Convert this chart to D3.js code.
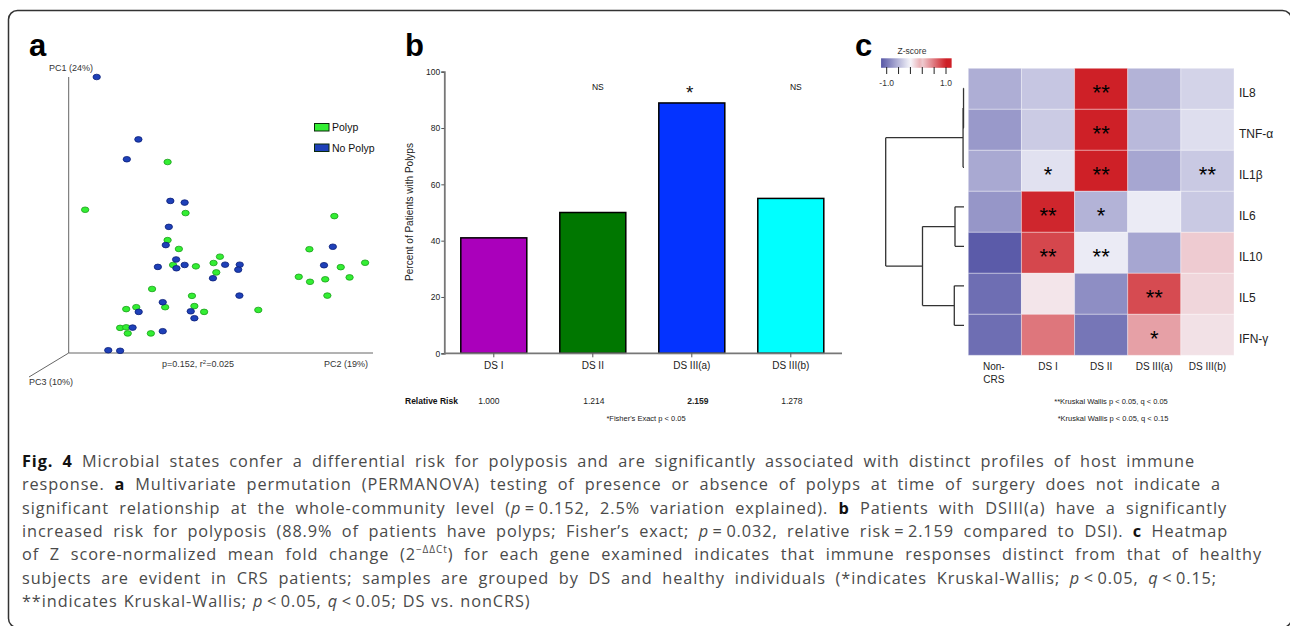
<!DOCTYPE html>
<html>
<head>
<meta charset="utf-8">
<script src="https://cdn.jsdelivr.net/npm/d3@7"></script>
<style>
  body { margin: 0; background: #fff; }
  svg { display: block; }
  text { font-family: "Liberation Sans", Arial, sans-serif; }
  text.caption { font-family: "Open Sans", "Noto Sans", sans-serif; letter-spacing: 0.9px; }
</style>
</head>
<body>
<div id="container"></div>
<script>
const width = 1290;
const height = 626;

// ---- panel a: ordination points, [PC2, PC1] as % of the drawn axis length
const polypPts = [[32.5,69.2],[5.4,51.9],[38.4,50.7],[87.3,49.6],[32.5,40.9],[36.2,37.7],[79.1,37.6],[49.7,34.9],
  [47.6,32.6],[34.3,31.9],[41.8,31.4],[97.4,32.7],[89.4,31.1],[48.5,29.2],[75.6,27.6],[92.3,27.4],[84.3,26.7],
  [79.3,25.8],[27.4,23.2],[40.5,20.7],[85.0,20.8],[22.2,16.6],[18.9,15.9],[31.7,16.6],[41.3,17.0],[62.3,15.6],
  [44.5,14.9],[16.9,9.1],[18.9,9.3],[19.4,7.1],[27.0,7.1]];
const noPolypPts = [[9.2,100],[22.9,77.4],[19.1,70.2],[33.4,55.1],[38.1,54.5],[32.9,45.7],[31.9,39.1],[86.8,38.5],
  [35.3,33.9],[38.1,31.9],[51.4,32.0],[56.2,32.0],[29.3,31.2],[35.4,30.7],[55.7,30.2],[83.9,31.8],[47.4,27.1],
  [56.1,20.8],[30.9,18.4],[23.0,14.9],[40.1,15.1],[41.3,12.6],[21.0,9.2],[30.9,7.9],[13.0,1.0],[16.9,0.8]];

// ---- panel b
const dsCats = ["DS I", "DS II", "DS III(a)", "DS III(b)"];
const pctPolyps = [41, 50, 88.9, 55];
const barColors = ["#aa00bb", "#007700", "#0433ff", "#00ffff"];
const sigLabels = ["", "NS", "*", "NS"];
const relRisk = ["1.000", "1.214", "2.159", "1.278"];
const pctTicks = [0, 20, 40, 60, 80, 100];

// ---- panel c
const heatCols = ["Non-CRS", "DS I", "DS II", "DS III(a)", "DS III(b)"];
const genes = ["IL8", "TNF-α", "IL1β", "IL6", "IL10", "IL5", "IFN-γ"];
const zScores = [
  [-0.45, -0.30, 1.00, -0.42, -0.22],
  [-0.58, -0.27, 1.00, -0.38, -0.15],
  [-0.48, -0.13, 1.00, -0.50, -0.28],
  [-0.60, 0.97, -0.42, -0.07, -0.28],
  [-0.97, 0.82, -0.07, -0.50, 0.20],
  [-0.85, 0.08, -0.65, 0.80, 0.15],
  [-0.85, 0.60, -0.80, 0.40, 0.10]
];
const stars = [["IL8","DS II","**"],["TNF-α","DS II","**"],["IL1β","DS I","*"],["IL1β","DS II","**"],
  ["IL1β","DS III(b)","**"],["IL6","DS I","**"],["IL6","DS II","*"],["IL10","DS I","**"],["IL10","DS II","**"],
  ["IL5","DS III(a)","**"],["IFN-γ","DS III(a)","*"]];
const zTicks = [-1, -0.6, -0.2, 0.2, 0.6, 1];
// gene clustering: leaves are row indexes, h = merge height (0..1)
const dendro = {h: 1, children: [
  {h: 0.012, children: [{h: 0.006, children: [{leaf: 0}, {leaf: 1}]}, {leaf: 2}]},
  {h: 0.53, children: [{h: 0.115, children: [{leaf: 3}, {leaf: 4}]}, {h: 0.124, children: [{leaf: 5}, {leaf: 6}]}]}
]};

const svg = d3.select("#container").append("svg")
  .attr("width", width).attr("height", height);

svg.append("rect")
  .attr("x", 8.5).attr("y", 10.5).attr("width", 1283).attr("height", 617)
  .attr("rx", 9).attr("fill", "none").attr("stroke", "#333").attr("stroke-width", 1.5);

const panelLabel = (x, y, t) => svg.append("text").attr("x", x).attr("y", y)
  .attr("font-size", 31).attr("font-weight", "bold").attr("fill", "#000").text(t);
panelLabel(29, 56, "a");
panelLabel(405, 56, "b");
panelLabel(855, 56, "c");

// ================= panel a
const gA = svg.append("g");
const pcX = d3.scaleLinear().domain([0, 100]).range([68.7, 373]);
const pcY = d3.scaleLinear().domain([0, 100]).range([353, 77]);
gA.append("line").attr("x1", pcX(0)).attr("x2", pcX(0)).attr("y1", pcY(0)).attr("y2", pcY(100));
gA.append("line").attr("x1", pcX(0)).attr("x2", pcX(100)).attr("y1", pcY(0)).attr("y2", pcY(0));
gA.append("line").attr("x1", pcX(0)).attr("x2", 29).attr("y1", pcY(0)).attr("y2", 377);
gA.selectAll("line").attr("stroke", "#666").attr("stroke-width", 1);

const smallTxt = (g, x, y, t, size, anchor) => g.append("text").attr("x", x).attr("y", y)
  .attr("font-size", size).attr("fill", "#333").attr("text-anchor", anchor || "start").text(t);
smallTxt(gA, 49, 71, "PC1 (24%)", 9);
smallTxt(gA, 324, 367, "PC2 (19%)", 9);
smallTxt(gA, 29, 385, "PC3 (10%)", 9);
const pr = gA.append("text").attr("x", 162).attr("y", 367).attr("font-size", 9).attr("fill", "#333");
pr.append("tspan").text("p=0.152, r");
pr.append("tspan").attr("font-size", 6).attr("dy", -3).text("2");
pr.append("tspan").attr("dy", 3).text("=0.025");

const drawPts = (pts, fill, stroke) => gA.append("g").selectAll("ellipse").data(pts).enter()
  .append("ellipse")
  .attr("cx", d => pcX(d[0])).attr("cy", d => pcY(d[1]))
  .attr("rx", 3.7).attr("ry", 2.8)
  .attr("fill", fill).attr("stroke", stroke).attr("stroke-width", 0.8);
drawPts(polypPts, "#33ee33", "#1a9e1a");
drawPts(noPolypPts, "#1e40b8", "#0b1f78");

const legA = [["Polyp", "#33ee33"], ["No Polyp", "#1e40b8"]];
legA.forEach((d, i) => {
  gA.append("rect").attr("x", 314.5).attr("y", 123.5 + i * 20.5).attr("width", 14.5).attr("height", 7.5)
    .attr("fill", d[1]).attr("stroke", "#0a2a0a").attr("stroke-width", 1);
  smallTxt(gA, 332, 131 + i * 20.5, d[0], 10.5).attr("fill", "#111");
});

// ================= panel b
const gB = svg.append("g");
const yB = d3.scaleLinear().domain([0, 100]).range([353.3, 71.7]);
const xB = d3.scaleBand().domain(dsCats).range([444.3, 840.3]).paddingInner(1 / 3).paddingOuter(1 / 6);

gB.selectAll("rect").data(dsCats).enter().append("rect")
  .attr("x", d => xB(d)).attr("width", xB.bandwidth())
  .attr("y", (d, i) => yB(pctPolyps[i])).attr("height", (d, i) => yB(0) - yB(pctPolyps[i]))
  .attr("fill", (d, i) => barColors[i]).attr("stroke", "#000").attr("stroke-width", 1.5);

const axB = gB.append("g").attr("transform", "translate(444.3,0)")
  .call(d3.axisLeft(yB).tickValues(pctTicks).tickSize(3).tickPadding(1).tickFormat(d3.format("d")));
const axBx = gB.append("g").attr("transform", "translate(0,353.3)")
  .call(d3.axisBottom(xB).tickSize(4).tickSizeOuter(0).tickPadding(5));
[axB, axBx].forEach(ax => {
  ax.select(".domain").attr("stroke", "#777").attr("stroke-width", 1.8);
  ax.selectAll(".tick line").attr("stroke", "#555");
  ax.selectAll("text").attr("fill", "#222");
});
axB.selectAll("text").attr("font-size", 8.5);
axBx.selectAll("text").attr("font-size", 10);
axBx.select(".domain").attr("d", "M444.3,0H842");

gB.append("text").attr("transform", "translate(413,212) rotate(-90)")
  .attr("text-anchor", "middle").attr("font-size", 10).attr("fill", "#222")
  .text("Percent of Patients with Polyps");

dsCats.forEach((c, i) => {
  const cx = xB(c) + xB.bandwidth() / 2;
  if (sigLabels[i]) {
    const star = sigLabels[i] === "*";
    gB.append("text").attr("x", cx + (star ? -2 : 5))
      .attr("y", star ? 99 : 90).attr("text-anchor", "middle")
      .attr("font-size", star ? 19 : 8.5).attr("fill", "#111").text(sigLabels[i]);
  }
  gB.append("text").attr("x", cx + (i === 2 ? 6 : i === 0 ? -5 : 1)).attr("y", 404)
    .attr("text-anchor", "middle").attr("font-size", 8.5).attr("fill", "#222")
    .attr("font-weight", i === 2 ? "bold" : "normal").text(relRisk[i]);
});
gB.append("text").attr("x", 405).attr("y", 404).attr("font-size", 8.5).attr("font-weight", "bold")
  .attr("fill", "#111").text("Relative Risk");
gB.append("text").attr("x", 646).attr("y", 421).attr("text-anchor", "middle").attr("font-size", 7.5)
  .attr("fill", "#222").text("*Fisher's Exact p < 0.05");

// ================= panel c
const gC = svg.append("g");
const xC = d3.scaleBand().domain(heatCols).range([968.3, 1234]);
const yC = d3.scaleBand().domain(genes).range([68.3, 355.3]);
const zColor = d3.scaleLinear().domain([-1, 0, 1]).range(["#5656a6", "#f6f6fb", "#ce2027"]).clamp(true);

genes.forEach((g, r) => {
  gC.append("g").selectAll("rect").data(heatCols).enter().append("rect")
    .attr("x", d => xC(d)).attr("y", yC(g))
    .attr("width", xC.bandwidth()).attr("height", yC.bandwidth())
    .attr("fill", (d, c) => zColor(zScores[r][c]))
    .attr("stroke", "#fff").attr("stroke-opacity", 0.35).attr("stroke-width", 1);
  gC.append("text").attr("x", 1239).attr("y", yC(g) + yC.bandwidth() / 2 + 8)
    .attr("font-size", 12).attr("fill", "#222").text(g);
});

gC.selectAll(".star").data(stars).enter().append("text").attr("class", "star")
  .attr("x", d => xC(d[1]) + xC.bandwidth() / 2)
  .attr("y", d => yC(d[0]) + yC.bandwidth() / 2 + 11)
  .attr("text-anchor", "middle").attr("font-size", 22).attr("fill", "#000")
  .text(d => d[2]);

heatCols.forEach(c => {
  const t = gC.append("text").attr("x", xC(c) + xC.bandwidth() / 2).attr("y", 370)
    .attr("text-anchor", "middle").attr("font-size", 10).attr("fill", "#222");
  if (c === "Non-CRS") {
    t.append("tspan").attr("x", xC(c) + xC.bandwidth() / 2 - 1).text("Non-");
    t.append("tspan").attr("x", xC(c) + xC.bandwidth() / 2 - 1).attr("dy", 13).text("CRS");
  } else t.text(c);
});
gC.append("text").attr("x", 1111).attr("y", 404).attr("text-anchor", "middle").attr("font-size", 7.5)
  .attr("fill", "#222").text("**Kruskal Wallis p < 0.05, q < 0.05");
gC.append("text").attr("x", 1113).attr("y", 421).attr("text-anchor", "middle").attr("font-size", 7.5)
  .attr("fill", "#222").text("*Kruskal Wallis p < 0.05, q < 0.15");

// colour key
const zX = d3.scaleLinear().domain([-1, 1]).range([886.7, 946]);
const grad = svg.append("defs").append("linearGradient").attr("id", "zgrad");
d3.range(-1.19, 1.2, 0.1).forEach(v => {
  grad.append("stop").attr("offset", (v + 1.19) / 2.38).attr("stop-color", zColor(v + 0.2 * (v < 0.2 ? 1 : 0)));
});
gC.append("rect").attr("x", zX(-1.19)).attr("y", 58.3).attr("width", zX(1.19) - zX(-1.19)).attr("height", 9.5)
  .attr("fill", "url(#zgrad)");
gC.append("g").selectAll("line").data(zTicks).enter().append("line")
  .attr("x1", d => zX(d)).attr("x2", d => zX(d)).attr("y1", 67).attr("y2", 74)
  .attr("stroke", "#222").attr("stroke-width", 1);
smallTxt(gC, zX(-1), 86, "-1.0", 8.5, "middle");
smallTxt(gC, zX(1), 86, "1.0", 8.5, "middle");
smallTxt(gC, 912, 54, "Z-score", 8.5, "middle");

// dendrogram
const dX = d3.scaleLinear().domain([0, 1]).range([964, 885.7]);
const dY = d3.scaleLinear().domain([0, 6]).range([88.3, 325.3]);
const dendroPaths = [];
const place = n => {
  if (n.children) {
    n.children.forEach(place);
    n.y = d3.mean(n.children, c => c.y);
    n.children.forEach(c => dendroPaths.push(`M${dX(n.h)},${c.y}H${dX(c.leaf === undefined ? c.h : 0)}`));
    dendroPaths.push(`M${dX(n.h)},${n.children[0].y}V${n.children[1].y}`);
  } else n.y = dY(n.leaf);
};
place(dendro);
gC.append("path").attr("d", dendroPaths.join("")).attr("fill", "none")
  .attr("stroke", "#333").attr("stroke-width", 1.3);

// ================= caption
const capLines = [
  [["b", "Fig. 4"], ["", " Microbial states confer a differential risk for polyposis and are significantly associated with distinct profiles of host immune"]],
  [["", "response. "], ["b", "a"], ["", " Multivariate permutation (PERMANOVA) testing of presence or absence of polyps at time of surgery does not indicate a"]],
  [["", "significant relationship at the whole-community level ("], ["i", "p"], ["", "\u2009=\u20090.152, 2.5% variation explained). "], ["b", "b"], ["", " Patients with DSIII(a) have a significantly"]],
  [["", "increased risk for polyposis (88.9% of patients have polyps; Fisher\u2019s exact; "], ["i", "p"], ["", "\u2009=\u20090.032, relative risk\u2009=\u20092.159 compared to DSI). "], ["b", "c"], ["", " Heatmap"]],
  [["", "of Z score-normalized mean fold change (2"], ["sup", "\u2212\u0394\u0394Ct"], ["", ") for each gene examined indicates that immune responses distinct from that of healthy"]],
  [["", "subjects are evident in CRS patients; samples are grouped by DS and healthy individuals (*indicates Kruskal-Wallis; "], ["i", "p"], ["", "\u2009<\u20090.05, "], ["i", "q"], ["", "\u2009<\u20090.15;"]],
  [["", "**indicates Kruskal-Wallis; "], ["i", "p"], ["", "\u2009<\u20090.05, "], ["i", "q"], ["", "\u2009<\u20090.05; DS vs. nonCRS)"]]
];
const capEnds = [1195, 1221, 1227, 1228, 1262, 1217, null];
capLines.forEach((parts, li) => {
  const t = svg.append("text").attr("class", "caption").attr("x", 22).attr("y", 467 + li * 23.3)
    .attr("font-size", 16.3).attr("fill", "#4a4a4a");
  let sup = false;
  parts.forEach(p => {
    const s = t.append("tspan").text(p[1]);
    if (p[0] === "b") s.attr("font-weight", "bold").attr("fill", "#111");
    if (p[0] === "i") s.attr("font-style", "italic");
    if (p[0] === "sup") { s.attr("font-size", 10).attr("dy", -7); sup = true; }
    else if (sup) { s.attr("dy", 7); sup = false; }
  });
  // spread words like the justified lines of the figure
  if (!capEnds[li]) { t.attr("word-spacing", 1); return; }
  const natural = t.node().getComputedTextLength();
  const spaces = parts.map(p => p[1]).join("").split(" ").length - 1;
  t.attr("word-spacing", Math.max(0, (capEnds[li] - 22 - natural) / spaces));
});
</script>
</body>
</html>
